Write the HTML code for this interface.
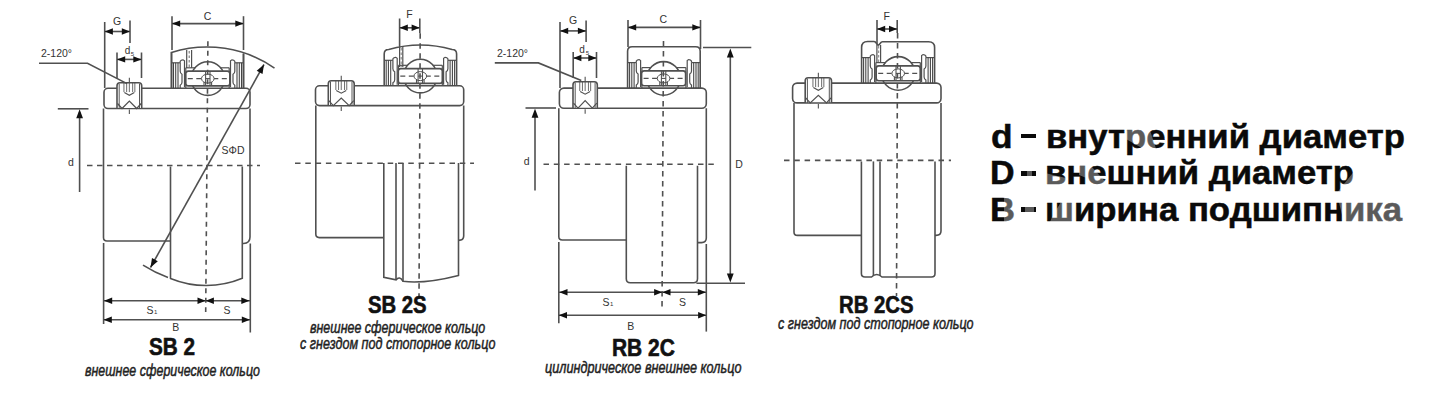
<!DOCTYPE html>
<html><head><meta charset="utf-8"><style>
html,body{margin:0;padding:0;background:#fff;}
body{width:1439px;height:403px;overflow:hidden;position:relative;font-family:"Liberation Sans",sans-serif;}
svg{position:absolute;left:0;top:0;}
.t{position:absolute;white-space:nowrap;color:#111;line-height:1;}
.h{font-weight:bold;font-size:23px;transform-origin:0 0;-webkit-text-stroke:0.6px #111;}
.s{font-style:italic;font-size:17px;color:#222;transform-origin:0 0;-webkit-text-stroke:0.5px #222;}
.r{font-weight:bold;font-size:33px;color:#0a0a0a;transform-origin:0 0;-webkit-text-stroke:0.5px #0a0a0a;}
</style></head><body>
<svg class="d" width="1439" height="403" viewBox="0 0 1439 403" font-family="Liberation Sans, sans-serif">
<rect x="104" y="88.3" width="146" height="20.2" rx="4" stroke="#505050" stroke-width="1.6" fill="none"/>
<path d="M103.5,108.5 L103.5,237.5 Q103.5,241 107,241 L170.5,241" stroke="#505050" stroke-width="1.6" fill="none"/>
<path d="M250,108.5 L250,237 Q250,243.5 243.5,243.5 L242.3,243.5" stroke="#505050" stroke-width="1.6" fill="none"/>
<path d="M170.5,166.5 L170.5,278.4 A94,94 0 0 0 242.3,278.2 L242.3,166.5" stroke="#505050" stroke-width="1.6" fill="none"/>
<path d="M171.5,88.3 L171.5,52.4 A118.5,118.5 0 0 1 274.5,68.1" stroke="#505050" stroke-width="1.6" fill="none"/>
<line x1="243.5" y1="53.5" x2="243.5" y2="88.3" stroke="#505050" stroke-width="1.6"/>
<path d="M143,265.2 A118.5,118.5 0 0 0 168,277.4" stroke="#505050" stroke-width="1.6" fill="none"/>
<line x1="171.5" y1="52" x2="171.5" y2="88.3" stroke="#505050" stroke-width="1.6"/>
<line x1="243.5" y1="53.5" x2="243.5" y2="88.3" stroke="#505050" stroke-width="1.6"/>
<line x1="171.5" y1="62.8" x2="180.2" y2="62.8" stroke="#505050" stroke-width="1.2"/>
<line x1="173.5" y1="62.8" x2="173.5" y2="88.3" stroke="#444" stroke-width="1.08"/>
<line x1="175.7" y1="62.8" x2="175.7" y2="88.3" stroke="#444" stroke-width="1.08"/>
<line x1="178.0" y1="62.8" x2="178.0" y2="88.3" stroke="#444" stroke-width="1.08"/>
<path d="M180.2,62.8 L180.2,61.3 Q181.0,59.8 183.0,59.8 L184.5,60.8 L184.5,87.3" stroke="#505050" stroke-width="1.2" fill="none"/>
<path d="M180.2,62.8 L180.2,71.3 Q180.2,73.3 182.0,74.3 L182.0,82.3 Q182.0,84.3 180.2,85.3 L180.2,88.3" stroke="#505050" stroke-width="1.2" fill="none"/>
<line x1="185.8" y1="67.8" x2="185.8" y2="88.3" stroke="#505050" stroke-width="1.2"/>
<line x1="243.5" y1="62.8" x2="234.8" y2="62.8" stroke="#505050" stroke-width="1.2"/>
<line x1="241.5" y1="62.8" x2="241.5" y2="88.3" stroke="#444" stroke-width="1.08"/>
<line x1="239.3" y1="62.8" x2="239.3" y2="88.3" stroke="#444" stroke-width="1.08"/>
<line x1="237.0" y1="62.8" x2="237.0" y2="88.3" stroke="#444" stroke-width="1.08"/>
<path d="M234.8,62.8 L234.8,61.3 Q234.0,59.8 232.0,59.8 L230.5,60.8 L230.5,87.3" stroke="#505050" stroke-width="1.2" fill="none"/>
<path d="M234.8,62.8 L234.8,71.3 Q234.8,73.3 233.0,74.3 L233.0,82.3 Q233.0,84.3 234.8,85.3 L234.8,88.3" stroke="#505050" stroke-width="1.2" fill="none"/>
<line x1="229.2" y1="67.8" x2="229.2" y2="88.3" stroke="#505050" stroke-width="1.2"/>
<circle cx="207.8" cy="78.6" r="16.8" stroke="#505050" stroke-width="1.6" fill="none"/>
<line x1="185.8" y1="67.8" x2="195.3" y2="67.8" stroke="#505050" stroke-width="1.2"/>
<line x1="220.3" y1="67.8" x2="229.2" y2="67.8" stroke="#505050" stroke-width="1.2"/>
<rect x="185.8" y="71.1" width="44" height="14.8" rx="2.5" stroke="#505050" stroke-width="1.6" fill="#fff"/>
<line x1="187.8" y1="78.6" x2="227.8" y2="78.6" stroke="#505050" stroke-width="1.2" stroke-dasharray="5,3.5"/>
<ellipse cx="207.8" cy="78.6" rx="6.3" ry="4.5" stroke="#505050" stroke-width="1.0" fill="#fff"/>
<line x1="205.60000000000002" y1="71.1" x2="205.60000000000002" y2="85.89999999999999" stroke="#505050" stroke-width="1.08"/>
<line x1="210.0" y1="71.1" x2="210.0" y2="85.89999999999999" stroke="#505050" stroke-width="1.08"/>
<line x1="205.60000000000002" y1="78.6" x2="210.0" y2="78.6" stroke="#505050" stroke-width="1.08"/>
<path d="M204.0,81.89999999999999 L204.0,85.89999999999999 M211.60000000000002,81.89999999999999 L211.60000000000002,85.89999999999999" stroke="#505050" stroke-width="1.08" fill="none"/>
<line x1="186.7" y1="50" x2="186.7" y2="68" stroke="#505050" stroke-width="1.2"/>
<line x1="191.6" y1="50" x2="191.6" y2="68" stroke="#505050" stroke-width="1.2"/>
<line x1="189.2" y1="51" x2="189.2" y2="68" stroke="#777" stroke-width="1.08" stroke-dasharray="2.5,2"/>
<path d="M117,107.9 L117,85.8 Q117,82.8 120,82.8 L138.7,82.8 Q141.7,82.8 141.7,85.8 L141.7,107.9 Z" fill="#fff" stroke="none"/>
<path d="M117,108.5 L117,85.8 Q117,82.8 120,82.8 L138.7,82.8 Q141.7,82.8 141.7,85.8 L141.7,108.5" stroke="#505050" stroke-width="1.6" fill="none"/>
<line x1="119.2" y1="83.8" x2="119.2" y2="108.5" stroke="#505050" stroke-width="0.96"/>
<line x1="139.5" y1="83.8" x2="139.5" y2="108.5" stroke="#505050" stroke-width="0.96"/>
<line x1="123.94999999999999" y1="82.8" x2="123.94999999999999" y2="92.1" stroke="#505050" stroke-width="0.84"/>
<line x1="126.64999999999999" y1="82.8" x2="126.64999999999999" y2="92.1" stroke="#505050" stroke-width="0.84"/>
<line x1="129.35" y1="82.8" x2="129.35" y2="92.1" stroke="#505050" stroke-width="0.84"/>
<line x1="132.65" y1="82.8" x2="132.65" y2="92.1" stroke="#505050" stroke-width="0.84"/>
<line x1="134.85" y1="82.8" x2="134.85" y2="92.1" stroke="#505050" stroke-width="0.84"/>
<path d="M124.35,92.6 L129.35,95.3 L134.35,92.6" stroke="#505050" stroke-width="1.08" fill="none"/>
<path d="M117.5,103.5 L122,108.5 L129.35,101.0 L136.7,108.5 L141.2,103.5" stroke="#505050" stroke-width="1.2" fill="none"/>
<line x1="129.35" y1="77.8" x2="129.35" y2="82.3" stroke="#505050" stroke-width="1.08"/>
<line x1="129.35" y1="109.5" x2="129.35" y2="114.0" stroke="#505050" stroke-width="1.08"/>
<line x1="87" y1="165.5" x2="260" y2="165.5" stroke="#505050" stroke-width="1.6" stroke-dasharray="5.5,4.5"/>
<line x1="207.9" y1="41.3" x2="205.7" y2="312" stroke="#505050" stroke-width="1.6" stroke-dasharray="5,4.5"/>
<line x1="150.5" y1="267.5" x2="264" y2="64.5" stroke="#505050" stroke-width="1.6"/>
<path d="M264.0,64.5 L262.5,74.0 L256.7,70.7 Z" fill="#111"/>
<path d="M150.5,267.5 L152.0,258.0 L157.8,261.3 Z" fill="#111"/>
<text x="233" y="154" font-size="10.5" text-anchor="middle" fill="#333">SΦD</text>
<line x1="104.7" y1="22" x2="104.7" y2="88" stroke="#505050" stroke-width="1.6"/>
<line x1="130" y1="20.5" x2="130" y2="43" stroke="#505050" stroke-width="1.6"/>
<line x1="104.7" y1="31.5" x2="130" y2="31.5" stroke="#505050" stroke-width="1.6"/>
<path d="M104.7,31.5 L112.9,28.3 L112.9,34.7 Z" fill="#111"/>
<path d="M130.0,31.5 L121.8,34.7 L121.8,28.3 Z" fill="#111"/>
<text x="117" y="24.5" font-size="10.5" text-anchor="middle" fill="#333">G</text>
<line x1="117" y1="52.5" x2="117" y2="78" stroke="#505050" stroke-width="1.6"/>
<line x1="141.5" y1="52.5" x2="141.5" y2="78" stroke="#505050" stroke-width="1.6"/>
<line x1="117" y1="59.4" x2="141.5" y2="59.4" stroke="#505050" stroke-width="1.6"/>
<path d="M117.0,59.4 L125.2,56.2 L125.2,62.6 Z" fill="#111"/>
<path d="M141.5,59.4 L133.3,62.6 L133.3,56.2 Z" fill="#111"/>
<text x="127.5" y="54" font-size="10" text-anchor="middle" fill="#333">d</text>
<text x="132.5" y="55.5" font-size="6" text-anchor="middle" fill="#333">5</text>
<line x1="172" y1="16.2" x2="172" y2="50" stroke="#505050" stroke-width="1.6"/>
<line x1="243.5" y1="16.2" x2="243.5" y2="50" stroke="#505050" stroke-width="1.6"/>
<line x1="172" y1="23.6" x2="243.5" y2="23.6" stroke="#505050" stroke-width="1.6"/>
<path d="M172.0,23.6 L180.2,20.4 L180.2,26.8 Z" fill="#111"/>
<path d="M243.5,23.6 L235.3,26.8 L235.3,20.4 Z" fill="#111"/>
<text x="207.5" y="20" font-size="10.5" text-anchor="middle" fill="#333">C</text>
<text x="41" y="57.2" font-size="10.5" text-anchor="start" fill="#333">2-120°</text>
<path d="M39,63.2 L87.5,63.2 L127,83.6" stroke="#505050" stroke-width="1.6" fill="none"/>
<line x1="57.8" y1="108.8" x2="88.5" y2="108.8" stroke="#505050" stroke-width="1.6"/>
<line x1="79.6" y1="112" x2="79.6" y2="192" stroke="#505050" stroke-width="1.6"/>
<path d="M79.6,109.3 L83.0,118.3 L76.2,118.3 Z" fill="#111"/>
<text x="71" y="166" font-size="10.5" text-anchor="middle" fill="#333">d</text>
<line x1="103.6" y1="243" x2="103.6" y2="324" stroke="#505050" stroke-width="1.6"/>
<line x1="250.3" y1="243.5" x2="250.3" y2="332.5" stroke="#505050" stroke-width="1.6"/>
<line x1="103.6" y1="300.7" x2="250" y2="300.7" stroke="#505050" stroke-width="1.6"/>
<path d="M104.0,300.7 L112.2,297.5 L112.2,303.9 Z" fill="#111"/>
<path d="M205.7,300.7 L197.5,303.9 L197.5,297.5 Z" fill="#111"/>
<path d="M205.7,300.7 L213.9,297.5 L213.9,303.9 Z" fill="#111"/>
<path d="M249.5,300.7 L241.3,303.9 L241.3,297.5 Z" fill="#111"/>
<line x1="103.6" y1="319.8" x2="250" y2="319.8" stroke="#505050" stroke-width="1.6"/>
<path d="M103.6,319.8 L111.8,316.6 L111.8,323.0 Z" fill="#111"/>
<path d="M250.0,319.8 L241.8,323.0 L241.8,316.6 Z" fill="#111"/>
<text x="150" y="314" font-size="10.5" text-anchor="middle" fill="#333">S</text>
<text x="155.6" y="314" font-size="6" text-anchor="middle" fill="#333">1</text>
<text x="227" y="314" font-size="10.5" text-anchor="middle" fill="#333">S</text>
<text x="175.7" y="330.5" font-size="10.5" text-anchor="middle" fill="#333">B</text>
<rect x="315.5" y="85.8" width="148.2" height="19.8" rx="4" stroke="#505050" stroke-width="1.6" fill="none"/>
<path d="M315.8,105.6 L315.8,234 Q315.8,237.6 319.3,237.6 L383.8,237.6" stroke="#505050" stroke-width="1.6" fill="none"/>
<path d="M463.7,105.6 L463.7,236 Q463.7,240.4 458.5,240.4" stroke="#505050" stroke-width="1.6" fill="none"/>
<path d="M383.8,163 L383.8,277.3 L396,279.9 Q399.5,275.5 403,281.3 Q425,284 458.5,275.4 L458.5,163" stroke="#505050" stroke-width="1.6" fill="none"/>
<line x1="396" y1="163" x2="396" y2="279.9" stroke="#505050" stroke-width="1.6"/>
<line x1="403" y1="163" x2="403" y2="281.3" stroke="#505050" stroke-width="1.6"/>
<path d="M384.2,85.8 L384.2,54.0 Q384.2,49.5 388.7,49.5 Q420.3,40.5 452.1,49.5 Q456.6,49.5 456.6,54.0 L456.6,85.8" stroke="#505050" stroke-width="1.6" fill="none"/>
<line x1="384.2" y1="60.3" x2="392.9" y2="60.3" stroke="#505050" stroke-width="1.2"/>
<line x1="386.2" y1="60.3" x2="386.2" y2="85.8" stroke="#444" stroke-width="1.08"/>
<line x1="388.4" y1="60.3" x2="388.4" y2="85.8" stroke="#444" stroke-width="1.08"/>
<line x1="390.7" y1="60.3" x2="390.7" y2="85.8" stroke="#444" stroke-width="1.08"/>
<path d="M392.9,60.3 L392.9,58.8 Q393.7,57.3 395.7,57.3 L397.2,58.3 L397.2,84.8" stroke="#505050" stroke-width="1.2" fill="none"/>
<path d="M392.9,60.3 L392.9,68.8 Q392.9,70.8 394.7,71.8 L394.7,79.8 Q394.7,81.8 392.9,82.8 L392.9,85.8" stroke="#505050" stroke-width="1.2" fill="none"/>
<line x1="398.5" y1="65.3" x2="398.5" y2="85.8" stroke="#505050" stroke-width="1.2"/>
<line x1="456.6" y1="60.3" x2="447.90000000000003" y2="60.3" stroke="#505050" stroke-width="1.2"/>
<line x1="454.6" y1="60.3" x2="454.6" y2="85.8" stroke="#444" stroke-width="1.08"/>
<line x1="452.40000000000003" y1="60.3" x2="452.40000000000003" y2="85.8" stroke="#444" stroke-width="1.08"/>
<line x1="450.1" y1="60.3" x2="450.1" y2="85.8" stroke="#444" stroke-width="1.08"/>
<path d="M447.90000000000003,60.3 L447.90000000000003,58.8 Q447.1,57.3 445.1,57.3 L443.6,58.3 L443.6,84.8" stroke="#505050" stroke-width="1.2" fill="none"/>
<path d="M447.90000000000003,60.3 L447.90000000000003,68.8 Q447.90000000000003,70.8 446.1,71.8 L446.1,79.8 Q446.1,81.8 447.90000000000003,82.8 L447.90000000000003,85.8" stroke="#505050" stroke-width="1.2" fill="none"/>
<line x1="442.3" y1="65.3" x2="442.3" y2="85.8" stroke="#505050" stroke-width="1.2"/>
<circle cx="420.3" cy="76.1" r="16.8" stroke="#505050" stroke-width="1.6" fill="none"/>
<line x1="398.5" y1="65.3" x2="407.8" y2="65.3" stroke="#505050" stroke-width="1.2"/>
<line x1="432.8" y1="65.3" x2="442.3" y2="65.3" stroke="#505050" stroke-width="1.2"/>
<rect x="398.3" y="68.6" width="44" height="14.8" rx="2.5" stroke="#505050" stroke-width="1.6" fill="#fff"/>
<line x1="400.3" y1="76.1" x2="440.3" y2="76.1" stroke="#505050" stroke-width="1.2" stroke-dasharray="5,3.5"/>
<ellipse cx="420.3" cy="76.1" rx="6.3" ry="4.5" stroke="#505050" stroke-width="1.0" fill="#fff"/>
<line x1="418.1" y1="68.6" x2="418.1" y2="83.39999999999999" stroke="#505050" stroke-width="1.08"/>
<line x1="422.5" y1="68.6" x2="422.5" y2="83.39999999999999" stroke="#505050" stroke-width="1.08"/>
<line x1="418.1" y1="76.1" x2="422.5" y2="76.1" stroke="#505050" stroke-width="1.08"/>
<path d="M416.5,79.39999999999999 L416.5,83.39999999999999 M424.1,79.39999999999999 L424.1,83.39999999999999" stroke="#505050" stroke-width="1.08" fill="none"/>
<line x1="399.6" y1="46" x2="399.6" y2="67" stroke="#505050" stroke-width="1.2"/>
<line x1="402.8" y1="46.5" x2="402.8" y2="67" stroke="#505050" stroke-width="1.2"/>
<line x1="401.2" y1="48" x2="401.2" y2="67" stroke="#777" stroke-width="0.96" stroke-dasharray="2.5,2"/>
<path d="M328.3,105.0 L328.3,83.7 Q328.3,80.7 331.3,80.7 L351.2,80.7 Q354.2,80.7 354.2,83.7 L354.2,105.0 Z" fill="#fff" stroke="none"/>
<path d="M328.3,105.6 L328.3,83.7 Q328.3,80.7 331.3,80.7 L351.2,80.7 Q354.2,80.7 354.2,83.7 L354.2,105.6" stroke="#505050" stroke-width="1.6" fill="none"/>
<line x1="330.5" y1="81.7" x2="330.5" y2="105.6" stroke="#505050" stroke-width="0.96"/>
<line x1="352.0" y1="81.7" x2="352.0" y2="105.6" stroke="#505050" stroke-width="0.96"/>
<line x1="335.85" y1="80.7" x2="335.85" y2="90.0" stroke="#505050" stroke-width="0.84"/>
<line x1="338.55" y1="80.7" x2="338.55" y2="90.0" stroke="#505050" stroke-width="0.84"/>
<line x1="341.25" y1="80.7" x2="341.25" y2="90.0" stroke="#505050" stroke-width="0.84"/>
<line x1="344.55" y1="80.7" x2="344.55" y2="90.0" stroke="#505050" stroke-width="0.84"/>
<line x1="346.75" y1="80.7" x2="346.75" y2="90.0" stroke="#505050" stroke-width="0.84"/>
<path d="M336.25,90.5 L341.25,93.2 L346.25,90.5" stroke="#505050" stroke-width="1.08" fill="none"/>
<path d="M328.8,100.6 L333.3,105.6 L341.25,98.1 L349.2,105.6 L353.7,100.6" stroke="#505050" stroke-width="1.2" fill="none"/>
<line x1="341.25" y1="75.7" x2="341.25" y2="80.2" stroke="#505050" stroke-width="1.08"/>
<line x1="341.25" y1="106.6" x2="341.25" y2="111.1" stroke="#505050" stroke-width="1.08"/>
<line x1="295" y1="163.3" x2="474" y2="163.3" stroke="#505050" stroke-width="1.6" stroke-dasharray="5.5,4.8"/>
<line x1="420.2" y1="33.3" x2="419.0" y2="300" stroke="#505050" stroke-width="1.6" stroke-dasharray="5.5,4.5"/>
<line x1="399.6" y1="18.5" x2="399.6" y2="46" stroke="#505050" stroke-width="1.6"/>
<line x1="419.8" y1="18.5" x2="419.8" y2="33.3" stroke="#505050" stroke-width="1.6"/>
<line x1="399.6" y1="27.8" x2="419.8" y2="27.8" stroke="#505050" stroke-width="1.6"/>
<path d="M399.6,27.8 L407.8,24.6 L407.8,31.0 Z" fill="#111"/>
<path d="M419.8,27.8 L411.6,31.0 L411.6,24.6 Z" fill="#111"/>
<text x="409.4" y="18" font-size="10.5" text-anchor="middle" fill="#333">F</text>
<rect x="559.4" y="88.1" width="146.9" height="20.1" rx="4.5" stroke="#505050" stroke-width="1.6" fill="none"/>
<path d="M558.8,108.2 L558.8,236.5 Q558.8,240 562.3,240 L626,240" stroke="#505050" stroke-width="1.6" fill="none"/>
<path d="M706.3,108.2 L706.3,238 Q706.3,242.6 701.5,242.6 L697.5,242.6" stroke="#505050" stroke-width="1.6" fill="none"/>
<path d="M626.3,165.7 L626.3,278.8 Q626.3,282.8 630.3,282.8 L693.5,282.8 Q697.5,282.8 697.5,278.8 L697.5,165.7" stroke="#505050" stroke-width="1.6" fill="none"/>
<path d="M627.6,88.1 L627.6,51.3 Q627.6,46.8 632.1,46.8 Q663.6,46.8 695.7,46.8 Q700.2,46.8 700.2,51.3 L700.2,88.1" stroke="#505050" stroke-width="1.6" fill="none"/>
<line x1="627.6" y1="62.599999999999994" x2="636.3000000000001" y2="62.599999999999994" stroke="#505050" stroke-width="1.2"/>
<line x1="629.6" y1="62.599999999999994" x2="629.6" y2="88.1" stroke="#444" stroke-width="1.08"/>
<line x1="631.8000000000001" y1="62.599999999999994" x2="631.8000000000001" y2="88.1" stroke="#444" stroke-width="1.08"/>
<line x1="634.1" y1="62.599999999999994" x2="634.1" y2="88.1" stroke="#444" stroke-width="1.08"/>
<path d="M636.3000000000001,62.599999999999994 L636.3000000000001,61.099999999999994 Q637.1,59.599999999999994 639.1,59.599999999999994 L640.6,60.599999999999994 L640.6,87.1" stroke="#505050" stroke-width="1.2" fill="none"/>
<path d="M636.3000000000001,62.599999999999994 L636.3000000000001,71.1 Q636.3000000000001,73.1 638.1,74.1 L638.1,82.1 Q638.1,84.1 636.3000000000001,85.1 L636.3000000000001,88.1" stroke="#505050" stroke-width="1.2" fill="none"/>
<line x1="641.9" y1="67.6" x2="641.9" y2="88.1" stroke="#505050" stroke-width="1.2"/>
<line x1="700.2" y1="62.599999999999994" x2="691.5" y2="62.599999999999994" stroke="#505050" stroke-width="1.2"/>
<line x1="698.2" y1="62.599999999999994" x2="698.2" y2="88.1" stroke="#444" stroke-width="1.08"/>
<line x1="696.0" y1="62.599999999999994" x2="696.0" y2="88.1" stroke="#444" stroke-width="1.08"/>
<line x1="693.7" y1="62.599999999999994" x2="693.7" y2="88.1" stroke="#444" stroke-width="1.08"/>
<path d="M691.5,62.599999999999994 L691.5,61.099999999999994 Q690.7,59.599999999999994 688.7,59.599999999999994 L687.2,60.599999999999994 L687.2,87.1" stroke="#505050" stroke-width="1.2" fill="none"/>
<path d="M691.5,62.599999999999994 L691.5,71.1 Q691.5,73.1 689.7,74.1 L689.7,82.1 Q689.7,84.1 691.5,85.1 L691.5,88.1" stroke="#505050" stroke-width="1.2" fill="none"/>
<line x1="685.9000000000001" y1="67.6" x2="685.9000000000001" y2="88.1" stroke="#505050" stroke-width="1.2"/>
<circle cx="663.6" cy="78.39999999999999" r="16.8" stroke="#505050" stroke-width="1.6" fill="none"/>
<line x1="641.9" y1="67.6" x2="651.1" y2="67.6" stroke="#505050" stroke-width="1.2"/>
<line x1="676.1" y1="67.6" x2="685.9000000000001" y2="67.6" stroke="#505050" stroke-width="1.2"/>
<rect x="641.6" y="70.89999999999999" width="44" height="14.8" rx="2.5" stroke="#505050" stroke-width="1.6" fill="#fff"/>
<line x1="643.6" y1="78.39999999999999" x2="683.6" y2="78.39999999999999" stroke="#505050" stroke-width="1.2" stroke-dasharray="5,3.5"/>
<ellipse cx="663.6" cy="78.39999999999999" rx="6.3" ry="4.5" stroke="#505050" stroke-width="1.0" fill="#fff"/>
<line x1="661.4" y1="70.89999999999999" x2="661.4" y2="85.69999999999999" stroke="#505050" stroke-width="1.08"/>
<line x1="665.8000000000001" y1="70.89999999999999" x2="665.8000000000001" y2="85.69999999999999" stroke="#505050" stroke-width="1.08"/>
<line x1="661.4" y1="78.39999999999999" x2="665.8000000000001" y2="78.39999999999999" stroke="#505050" stroke-width="1.08"/>
<path d="M659.8000000000001,81.69999999999999 L659.8000000000001,85.69999999999999 M667.4,81.69999999999999 L667.4,85.69999999999999" stroke="#505050" stroke-width="1.08" fill="none"/>
<path d="M573,107.60000000000001 L573,84.7 Q573,81.7 576,81.7 L594.3,81.7 Q597.3,81.7 597.3,84.7 L597.3,107.60000000000001 Z" fill="#fff" stroke="none"/>
<path d="M573,108.2 L573,84.7 Q573,81.7 576,81.7 L594.3,81.7 Q597.3,81.7 597.3,84.7 L597.3,108.2" stroke="#505050" stroke-width="1.6" fill="none"/>
<line x1="575.2" y1="82.7" x2="575.2" y2="108.2" stroke="#505050" stroke-width="0.96"/>
<line x1="595.0999999999999" y1="82.7" x2="595.0999999999999" y2="108.2" stroke="#505050" stroke-width="0.96"/>
<line x1="579.75" y1="81.7" x2="579.75" y2="91.0" stroke="#505050" stroke-width="0.84"/>
<line x1="582.4499999999999" y1="81.7" x2="582.4499999999999" y2="91.0" stroke="#505050" stroke-width="0.84"/>
<line x1="585.15" y1="81.7" x2="585.15" y2="91.0" stroke="#505050" stroke-width="0.84"/>
<line x1="588.4499999999999" y1="81.7" x2="588.4499999999999" y2="91.0" stroke="#505050" stroke-width="0.84"/>
<line x1="590.65" y1="81.7" x2="590.65" y2="91.0" stroke="#505050" stroke-width="0.84"/>
<path d="M580.15,91.5 L585.15,94.2 L590.15,91.5" stroke="#505050" stroke-width="1.08" fill="none"/>
<path d="M573.5,103.2 L578,108.2 L585.15,100.7 L592.3,108.2 L596.8,103.2" stroke="#505050" stroke-width="1.2" fill="none"/>
<line x1="585.15" y1="76.7" x2="585.15" y2="81.2" stroke="#505050" stroke-width="1.08"/>
<line x1="585.15" y1="109.2" x2="585.15" y2="113.7" stroke="#505050" stroke-width="1.08"/>
<line x1="543.5" y1="164.2" x2="715" y2="164.2" stroke="#505050" stroke-width="1.6" stroke-dasharray="5.5,4.8"/>
<line x1="663.5" y1="41" x2="662" y2="311" stroke="#505050" stroke-width="1.6" stroke-dasharray="5.5,4.5"/>
<line x1="560" y1="22" x2="560" y2="88" stroke="#505050" stroke-width="1.6"/>
<line x1="586.1" y1="20.5" x2="586.1" y2="42" stroke="#505050" stroke-width="1.6"/>
<line x1="560" y1="30.9" x2="586.1" y2="30.9" stroke="#505050" stroke-width="1.6"/>
<path d="M560.0,30.9 L568.2,27.7 L568.2,34.1 Z" fill="#111"/>
<path d="M586.1,30.9 L577.9,34.1 L577.9,27.7 Z" fill="#111"/>
<text x="573" y="24" font-size="10.5" text-anchor="middle" fill="#333">G</text>
<line x1="573.2" y1="52" x2="573.2" y2="78" stroke="#505050" stroke-width="1.6"/>
<line x1="596.5" y1="52" x2="596.5" y2="78" stroke="#505050" stroke-width="1.6"/>
<line x1="573.2" y1="58" x2="596.5" y2="58" stroke="#505050" stroke-width="1.6"/>
<path d="M573.2,58.0 L581.4,54.8 L581.4,61.2 Z" fill="#111"/>
<path d="M596.5,58.0 L588.3,61.2 L588.3,54.8 Z" fill="#111"/>
<text x="582" y="53" font-size="10" text-anchor="middle" fill="#333">d</text>
<text x="587.3" y="54.5" font-size="6" text-anchor="middle" fill="#333">5</text>
<line x1="628" y1="20" x2="628" y2="47" stroke="#505050" stroke-width="1.6"/>
<line x1="700.5" y1="20" x2="700.5" y2="49" stroke="#505050" stroke-width="1.6"/>
<line x1="628" y1="27.4" x2="700.5" y2="27.4" stroke="#505050" stroke-width="1.6"/>
<path d="M628.0,27.4 L636.2,24.2 L636.2,30.6 Z" fill="#111"/>
<path d="M700.5,27.4 L692.3,30.6 L692.3,24.2 Z" fill="#111"/>
<text x="663.2" y="23" font-size="10.5" text-anchor="middle" fill="#333">C</text>
<text x="497" y="56.5" font-size="10.5" text-anchor="start" fill="#333">2-120°</text>
<path d="M494.8,62.9 L538.4,62.9 L581.3,80.6" stroke="#505050" stroke-width="1.6" fill="none"/>
<line x1="703" y1="47.5" x2="751.3" y2="47.5" stroke="#505050" stroke-width="1.6"/>
<line x1="696.4" y1="283.2" x2="745" y2="283.2" stroke="#505050" stroke-width="1.6"/>
<line x1="730.3" y1="55" x2="730.3" y2="275" stroke="#505050" stroke-width="1.6"/>
<path d="M730.3,48.6 L733.7,57.6 L726.9,57.6 Z" fill="#111"/>
<path d="M730.3,282.6 L726.9,273.6 L733.7,273.6 Z" fill="#111"/>
<text x="739" y="167.5" font-size="10.5" text-anchor="middle" fill="#333">D</text>
<line x1="525.5" y1="108" x2="556" y2="108" stroke="#505050" stroke-width="1.6"/>
<line x1="535" y1="112" x2="535" y2="190.5" stroke="#505050" stroke-width="1.6"/>
<path d="M535.0,108.8 L538.4,117.8 L531.6,117.8 Z" fill="#111"/>
<text x="526.7" y="165" font-size="10.5" text-anchor="middle" fill="#333">d</text>
<line x1="558.8" y1="242" x2="558.8" y2="323.2" stroke="#505050" stroke-width="1.6"/>
<line x1="706.3" y1="244" x2="706.3" y2="331.6" stroke="#505050" stroke-width="1.6"/>
<line x1="558.8" y1="292.3" x2="706.4" y2="292.3" stroke="#505050" stroke-width="1.6"/>
<path d="M559.3,292.3 L567.5,289.1 L567.5,295.5 Z" fill="#111"/>
<path d="M662.3,292.3 L654.1,295.5 L654.1,289.1 Z" fill="#111"/>
<path d="M662.3,292.3 L670.5,289.1 L670.5,295.5 Z" fill="#111"/>
<path d="M706.0,292.3 L697.8,295.5 L697.8,289.1 Z" fill="#111"/>
<line x1="558.8" y1="315.3" x2="706.3" y2="315.3" stroke="#505050" stroke-width="1.6"/>
<path d="M558.8,315.3 L567.0,312.1 L567.0,318.5 Z" fill="#111"/>
<path d="M706.3,315.3 L698.1,318.5 L698.1,312.1 Z" fill="#111"/>
<text x="606" y="305.5" font-size="10.5" text-anchor="middle" fill="#333">S</text>
<text x="611.6" y="305.5" font-size="6" text-anchor="middle" fill="#333">1</text>
<text x="682.6" y="305.5" font-size="10.5" text-anchor="middle" fill="#333">S</text>
<text x="630.8" y="329.5" font-size="10.5" text-anchor="middle" fill="#333">B</text>
<rect x="792.6" y="83.1" width="148.4" height="19.8" rx="4.5" stroke="#505050" stroke-width="1.6" fill="none"/>
<path d="M794,102.9 L794,231.9 Q794,235.4 797.5,235.4 L861.4,235.4" stroke="#505050" stroke-width="1.6" fill="none"/>
<path d="M941,102.9 L941,231 Q941,235.4 936,235.4 L935,235.4" stroke="#505050" stroke-width="1.6" fill="none"/>
<path d="M861.4,161.4 L861.4,273.5 Q861.4,277 865,277 L871.5,277 Q876.7,272 882,277 L931.5,277 Q935,277 935,273.5 L935,161.4" stroke="#505050" stroke-width="1.6" fill="none"/>
<line x1="873.4" y1="161.4" x2="873.4" y2="276" stroke="#505050" stroke-width="1.6"/>
<line x1="880" y1="161.4" x2="880" y2="276" stroke="#505050" stroke-width="1.6"/>
<path d="M861.6,83.1 L861.6,47.5 Q861.6,41.5 867.6,41.5 L874,41.5 Q875.5,41.5 876.5,43.5 Q878.0,47.0 880.5,43.0 Q881.2,41.8 882.5,41.8 L928.6,41.8 Q934.6,41.8 934.6,47.5 L934.6,83.1" stroke="#505050" stroke-width="1.6" fill="none"/>
<line x1="861.6" y1="57.599999999999994" x2="870.3000000000001" y2="57.599999999999994" stroke="#505050" stroke-width="1.2"/>
<line x1="863.6" y1="57.599999999999994" x2="863.6" y2="83.1" stroke="#444" stroke-width="1.08"/>
<line x1="865.8000000000001" y1="57.599999999999994" x2="865.8000000000001" y2="83.1" stroke="#444" stroke-width="1.08"/>
<line x1="868.1" y1="57.599999999999994" x2="868.1" y2="83.1" stroke="#444" stroke-width="1.08"/>
<path d="M870.3000000000001,57.599999999999994 L870.3000000000001,56.099999999999994 Q871.1,54.599999999999994 873.1,54.599999999999994 L874.6,55.599999999999994 L874.6,82.1" stroke="#505050" stroke-width="1.2" fill="none"/>
<path d="M870.3000000000001,57.599999999999994 L870.3000000000001,66.1 Q870.3000000000001,68.1 872.1,69.1 L872.1,77.1 Q872.1,79.1 870.3000000000001,80.1 L870.3000000000001,83.1" stroke="#505050" stroke-width="1.2" fill="none"/>
<line x1="875.9" y1="62.599999999999994" x2="875.9" y2="83.1" stroke="#505050" stroke-width="1.2"/>
<line x1="934.6" y1="57.599999999999994" x2="925.9" y2="57.599999999999994" stroke="#505050" stroke-width="1.2"/>
<line x1="932.6" y1="57.599999999999994" x2="932.6" y2="83.1" stroke="#444" stroke-width="1.08"/>
<line x1="930.4" y1="57.599999999999994" x2="930.4" y2="83.1" stroke="#444" stroke-width="1.08"/>
<line x1="928.1" y1="57.599999999999994" x2="928.1" y2="83.1" stroke="#444" stroke-width="1.08"/>
<path d="M925.9,57.599999999999994 L925.9,56.099999999999994 Q925.1,54.599999999999994 923.1,54.599999999999994 L921.6,55.599999999999994 L921.6,82.1" stroke="#505050" stroke-width="1.2" fill="none"/>
<path d="M925.9,57.599999999999994 L925.9,66.1 Q925.9,68.1 924.1,69.1 L924.1,77.1 Q924.1,79.1 925.9,80.1 L925.9,83.1" stroke="#505050" stroke-width="1.2" fill="none"/>
<line x1="920.3000000000001" y1="62.599999999999994" x2="920.3000000000001" y2="83.1" stroke="#505050" stroke-width="1.2"/>
<circle cx="898.2" cy="73.39999999999999" r="16.8" stroke="#505050" stroke-width="1.6" fill="none"/>
<line x1="875.9" y1="62.599999999999994" x2="885.7" y2="62.599999999999994" stroke="#505050" stroke-width="1.2"/>
<line x1="910.7" y1="62.599999999999994" x2="920.3000000000001" y2="62.599999999999994" stroke="#505050" stroke-width="1.2"/>
<rect x="876.2" y="65.89999999999999" width="44" height="14.8" rx="2.5" stroke="#505050" stroke-width="1.6" fill="#fff"/>
<line x1="878.2" y1="73.39999999999999" x2="918.2" y2="73.39999999999999" stroke="#505050" stroke-width="1.2" stroke-dasharray="5,3.5"/>
<ellipse cx="898.2" cy="73.39999999999999" rx="6.3" ry="4.5" stroke="#505050" stroke-width="1.0" fill="#fff"/>
<line x1="896.0" y1="65.89999999999999" x2="896.0" y2="80.69999999999999" stroke="#505050" stroke-width="1.08"/>
<line x1="900.4000000000001" y1="65.89999999999999" x2="900.4000000000001" y2="80.69999999999999" stroke="#505050" stroke-width="1.08"/>
<line x1="896.0" y1="73.39999999999999" x2="900.4000000000001" y2="73.39999999999999" stroke="#505050" stroke-width="1.08"/>
<path d="M894.4000000000001,76.69999999999999 L894.4000000000001,80.69999999999999 M902.0,76.69999999999999 L902.0,80.69999999999999" stroke="#505050" stroke-width="1.08" fill="none"/>
<line x1="876.9" y1="45" x2="876.9" y2="62" stroke="#505050" stroke-width="1.2"/>
<line x1="880.6" y1="45" x2="880.6" y2="62" stroke="#505050" stroke-width="1.2"/>
<line x1="878.7" y1="46" x2="878.7" y2="62" stroke="#777" stroke-width="0.96" stroke-dasharray="2.5,2"/>
<path d="M805.2,102.30000000000001 L805.2,80.8 Q805.2,77.8 808.2,77.8 L828.5,77.8 Q831.5,77.8 831.5,80.8 L831.5,102.30000000000001 Z" fill="#fff" stroke="none"/>
<path d="M805.2,102.9 L805.2,80.8 Q805.2,77.8 808.2,77.8 L828.5,77.8 Q831.5,77.8 831.5,80.8 L831.5,102.9" stroke="#505050" stroke-width="1.6" fill="none"/>
<line x1="807.4000000000001" y1="78.8" x2="807.4000000000001" y2="102.9" stroke="#505050" stroke-width="0.96"/>
<line x1="829.3" y1="78.8" x2="829.3" y2="102.9" stroke="#505050" stroke-width="0.96"/>
<line x1="812.95" y1="77.8" x2="812.95" y2="87.1" stroke="#505050" stroke-width="0.84"/>
<line x1="815.65" y1="77.8" x2="815.65" y2="87.1" stroke="#505050" stroke-width="0.84"/>
<line x1="818.35" y1="77.8" x2="818.35" y2="87.1" stroke="#505050" stroke-width="0.84"/>
<line x1="821.65" y1="77.8" x2="821.65" y2="87.1" stroke="#505050" stroke-width="0.84"/>
<line x1="823.85" y1="77.8" x2="823.85" y2="87.1" stroke="#505050" stroke-width="0.84"/>
<path d="M813.35,87.6 L818.35,90.3 L823.35,87.6" stroke="#505050" stroke-width="1.08" fill="none"/>
<path d="M805.7,97.9 L810.2,102.9 L818.35,95.4 L826.5,102.9 L831.0,97.9" stroke="#505050" stroke-width="1.2" fill="none"/>
<line x1="818.35" y1="72.8" x2="818.35" y2="77.3" stroke="#505050" stroke-width="1.08"/>
<line x1="818.35" y1="103.9" x2="818.35" y2="108.4" stroke="#505050" stroke-width="1.08"/>
<line x1="784" y1="160.4" x2="951" y2="160.4" stroke="#505050" stroke-width="1.6" stroke-dasharray="5.5,4.8"/>
<line x1="897.6" y1="33" x2="896.5" y2="296" stroke="#505050" stroke-width="1.6" stroke-dasharray="5.5,4.5"/>
<line x1="877" y1="20" x2="877" y2="44.5" stroke="#505050" stroke-width="1.6"/>
<line x1="897.2" y1="20" x2="897.2" y2="33" stroke="#505050" stroke-width="1.6"/>
<line x1="877" y1="29" x2="897.2" y2="29" stroke="#505050" stroke-width="1.6"/>
<path d="M877.0,29.0 L885.2,25.8 L885.2,32.2 Z" fill="#111"/>
<path d="M897.2,29.0 L889.0,32.2 L889.0,25.8 Z" fill="#111"/>
<text x="886.8" y="19.5" font-size="10.5" text-anchor="middle" fill="#333">F</text>
</svg>
<div id="titles">
<div class="t h" style="left:149.3px;top:335.9px;transform:scaleX(0.9000)">SB 2</div>
<div class="t h" style="left:367.9px;top:293.7px;transform:scaleX(0.8815)">SB 2S</div>
<div class="t h" style="left:611.7px;top:336.5px;transform:scaleX(0.9106)">RB 2C</div>
<div class="t h" style="left:839.0px;top:293.6px;transform:scaleX(0.8827)">RB 2CS</div>
<div class="t s" style="left:84.9px;top:361.9px;transform:scaleX(0.7316)">внешнее сферическое кольцо</div>
<div class="t s" style="left:309.9px;top:318.8px;transform:scaleX(0.7330)">внешнее сферическое кольцо</div>
<div class="t s" style="left:299.5px;top:334.5px;transform:scaleX(0.7400)">с гнездом под стопорное кольцо</div>
<div class="t s" style="left:544.8px;top:358.8px;transform:scaleX(0.7450)">цилиндрическое внешнее кольцо</div>
<div class="t s" style="left:778.1px;top:315.2px;transform:scaleX(0.7407)">с гнездом под стопорное кольцо</div>
<div class="t r" style="left:991.0px;top:119.9px;transform:scaleX(1.0700)">d</div>
<div style="position:absolute;left:1021.4px;top:133.9px;width:14.5px;height:4.6px;background:#0a0a0a"></div>
<div class="t r" style="left:990.2px;top:156.4px;transform:scaleX(1.0300)">D</div>
<div style="position:absolute;left:1021.4px;top:171.3px;width:14.5px;height:4.6px;background:#0a0a0a"></div>
<div class="t r" style="left:989.9px;top:192.6px;transform:scaleX(1.0500)">B</div>
<div style="position:absolute;left:1021.4px;top:207.1px;width:14.5px;height:4.6px;background:#0a0a0a"></div>
<div class="t r" style="left:1046.1px;top:119.9px;transform:scaleX(1.0510)">внутренний диаметр</div>
<div class="t r" style="left:1045.3px;top:156.4px;transform:scaleX(1.0510)">внешний диаметр</div>
<div class="t r" style="left:1045.3px;top:192.6px;transform:scaleX(1.0530)">ширина подшипника</div>
</div>
<svg width="1439" height="403" style="position:absolute;left:0;top:0">
<polygon points="1126.8,129 1149.6,129 1156.1,149 1143.7,149 1126.8,139.4" fill="#fff" fill-opacity="0.33"/>
<polygon points="1047,173.5 1066,178 1066,186.5 1047,186.5" fill="#fff" fill-opacity="0.33"/>
<polygon points="1079,166 1086.5,166 1086.5,178 1079,175" fill="#fff" fill-opacity="0.33"/>
<polygon points="1087,166 1091,166 1105.5,182 1105.5,186.5 1087,186.5" fill="#fff" fill-opacity="0.33"/>
<polygon points="1027,170 1032,170 1032,177 1027,177" fill="#fff" fill-opacity="0.33"/>
<polygon points="1352.8,173 1357,173 1357,194 1336,194" fill="#fff" fill-opacity="0.33"/>
<polygon points="1004,196.5 1014.5,196.5 1014.5,222 1004,222" fill="#fff" fill-opacity="0.33"/>
<polygon points="1025,205.5 1034,205.5 1034,213 1025,213" fill="#fff" fill-opacity="0.33"/>
<polygon points="1061,202 1074,202 1074,222 1050,222 1052,217" fill="#fff" fill-opacity="0.33"/>
<polygon points="1338,198.5 1406,198.5 1406,223 1344,223" fill="#fff" fill-opacity="0.33"/>
</svg>
</body></html>
